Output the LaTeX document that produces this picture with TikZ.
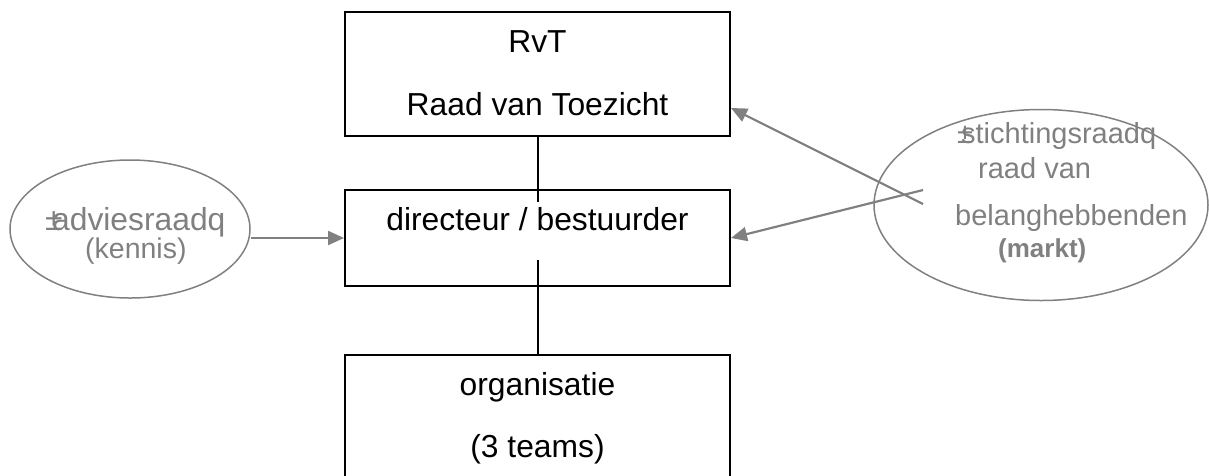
\documentclass[tikz,border=0pt]{standalone}
\usepackage{fontspec}
\setmainfont{Liberation Sans}
\usetikzlibrary{shapes.geometric,arrows.meta}
\definecolor{grey}{HTML}{808080}
\tikzset{
  box/.style={draw=black, line width=2pt, rectangle, inner sep=0pt, minimum width=385pt},
  oval/.style={draw=grey, line width=1.5pt, ellipse, inner sep=0pt},
  txt/.style={inner sep=0pt, font=\fontsize{31.8}{38}\selectfont},
  gtxt/.style={txt, text=grey},
  rtxt/.style={gtxt, anchor=base west, font=\fontsize{29}{35}\selectfont},
  conn/.style={draw=black, line width=2pt},
  arr/.style={draw=grey, line width=2.2pt, -{Triangle[length=16pt,width=14pt]}},
}
\begin{document}
\begin{tikzpicture}[x=1pt,y=-1pt]
\useasboundingbox (0,0) rectangle (1209,475);
\clip (0,0) rectangle (1209,475);
% boxes
\node[box, minimum height=124pt] (rvt) at (537.5,74) {};
\node[box, minimum height=96pt] (dir) at (537.5,238) {};
\node[box, minimum height=135pt] (org) at (537.5,422.5) {};
\node[txt, anchor=base] (t1) at (537.5,52) {RvT};
\node[txt, anchor=base] (t2) at (537.5,115) {Raad van Toezicht};
\node[txt, anchor=base] (t3) at (537.5,230) {directeur / bestuurder};
\node[txt, anchor=base] (t4) at (537.5,395) {organisatie};
\node[txt, anchor=base] (t5) at (537.5,457) {(3 teams)};
% ellipses
\node[oval, minimum width=240pt, minimum height=138pt] (adv) at (130,229) {};
\node[oval, minimum width=334pt, minimum height=191pt] (sti) at (1041,205) {};
\node[gtxt, anchor=base west] (a1) at (45,230) {±\kern-10.5pt adviesraadq};
\node[gtxt, anchor=base west, font=\fontsize{28.5}{34}\selectfont] (a2) at (85,258) {(kennis)};
\node[rtxt] (s1) at (957,143) {±\kern-12pt stichtingsraadq};
\node[rtxt] (s2) at (978,178) {raad van};
\node[rtxt] (s3) at (955,225) {belanghebbenden};
\node[rtxt, font=\fontsize{26}{32}\selectfont\bfseries] (s4) at (998,257) {(markt)};
% connectors
\draw[conn] (rvt.south) -- ([yshift=-13pt]dir.north);
\draw[conn] ([yshift=27pt]dir.south) -- (org.north);
\draw[arr] (adv.east |- dir.west) -- (dir.west);
\coordinate (p1) at (923,204);
\coordinate (p2) at (923,190);
\draw[arr] (p1) -- ([yshift=-34pt]rvt.east);
\draw[arr] (p2) -- (dir.east);
\end{tikzpicture}
\end{document}
